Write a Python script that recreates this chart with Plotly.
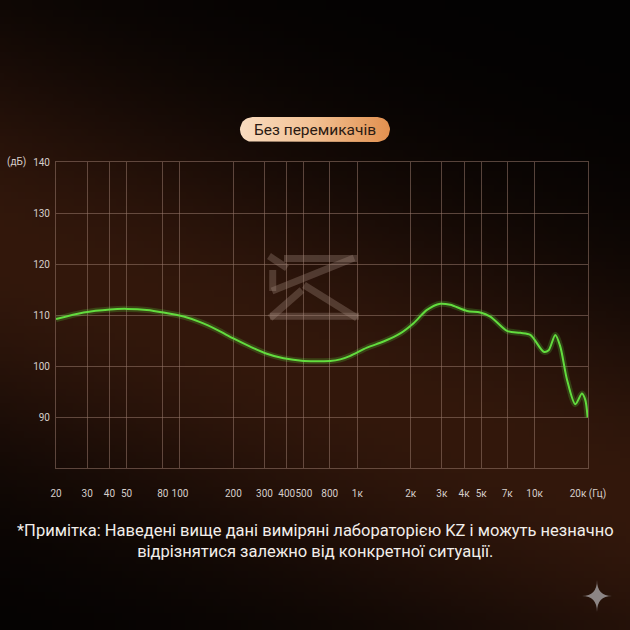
import base64, struct, zlib
import numpy as np
import plotly.graph_objects as go

# ---------------- data ----------------
freq_hz = [20, 28.6, 40.4, 50.2, 65, 80.8, 105, 130, 162, 200, 249, 309, 384, 498,
           704, 802, 913, 1134, 1406, 1747, 2077, 2472, 2936, 3344, 4154, 4938,
           5624, 6982, 8300, 9460, 11245, 12000, 13080, 13960, 15230, 16950,
           18490, 19320, 19900]
spl_db = [109.2, 110.5, 111.1, 111.2, 111.0, 110.5, 109.7, 108.6, 107.1, 105.4,
          103.8, 102.4, 101.5, 101.0, 101.0, 101.3, 102.0, 103.6, 104.8, 106.4,
          108.4, 111.0, 112.2, 112.0, 110.8, 110.5, 109.7, 106.9, 106.5, 106.1,
          102.8, 103.1, 106.1, 103.8, 97.3, 92.5, 94.6, 93.3, 89.9]

x_tick_vals = [20, 30, 40, 50, 80, 100, 200, 300, 400, 500, 700, 1000, 2000,
               3000, 4000, 5000, 7000, 10000, 20000]
x_tick_text = ["20", "30", "40", "50", "80", "100", "200", "300", "400", "500",
               "800", "1к", "2к", "3к", "4к", "5к", "7к", "10к", "20к (Гц)"]
y_tick_vals = [90, 100, 110, 120, 130, 140]
y_tick_text = ["90", "100", "110", "120", "130", "140"]

title_text = "Без перемикачів"
y_unit = "(дБ)"
note_text = ("*Примітка: Наведені вище дані виміряні лабораторією KZ і можуть незначно<br>"
             "відрізнятися залежно від конкретної ситуації.")

W = H = 630
PL, PR, PT, PB = 56, 588, 162, 468  # plot box in pixels

# ---------------- background gradient png ----------------
def make_bg(n=90):
    rows = []
    sig = 200.0
    for j in range(n):
        py = (j + 0.5) * H / n
        row = bytearray([0])
        for i in range(n):
            px = (i + 0.5) * W / n
            liney = 250 + px * 250 / 630
            d = abs(py - liney) * 0.93
            f = np.exp(-(d / sig) ** 2)
            r, g, b = 48 * f + 3, 22 * f + 2, 10 * f + 2
            row += bytes([int(r), int(g), int(b)])
        rows.append(bytes(row))
    raw = b"".join(rows)
    def chunk(t, d):
        c = struct.pack(">I", len(d)) + t + d
        return c + struct.pack(">I", zlib.crc32(t + d) & 0xffffffff)
    png = b"\x89PNG\r\n\x1a\n" + chunk(b"IHDR", struct.pack(">IIBBBBB", n, n, 8, 2, 0, 0, 0)) \
        + chunk(b"IDAT", zlib.compress(raw, 9)) + chunk(b"IEND", b"")
    return "data:image/png;base64," + base64.b64encode(png).decode()

fig = go.Figure()

# glow + curve
fig.add_trace(go.Scatter(x=freq_hz, y=spl_db, mode="lines", line=dict(color="rgba(90,225,60,0.22)", width=6, shape="spline", smoothing=0.8),
                         hoverinfo="skip", showlegend=False))
fig.add_trace(go.Scatter(x=freq_hz, y=spl_db, mode="lines", line=dict(color="#62dc3e", width=2, shape="spline", smoothing=0.8),
                         showlegend=False))

# pill (pixel overlay axes)
x0p, x1p, y0p, y1p, rr = 240, 390, 117, 142, 12.5
t = np.linspace(0, np.pi / 2, 12)
px_pts, py_pts = [], []
for cx, cy, a0 in [(x1p - rr, y0p + rr, -np.pi / 2), (x1p - rr, y1p - rr, 0),
                   (x0p + rr, y1p - rr, np.pi / 2), (x0p + rr, y0p + rr, np.pi)]:
    for a in a0 + t:
        px_pts.append(cx + rr * np.cos(a))
        py_pts.append(cy + rr * np.sin(a))
px_pts.append(px_pts[0]); py_pts.append(py_pts[0])
fig.add_trace(go.Scatter(x=px_pts, y=py_pts, xaxis="x2", yaxis="y2", mode="lines",
                         line=dict(width=0, color="rgba(0,0,0,0)"), fill="toself",
                         fillgradient=dict(type="horizontal", colorscale=[[0, "#f9dcc0"], [0.5, "#f2c092"], [1, "#e2904f"]]),
                         hoverinfo="skip", showlegend=False))

shapes = []
logo_col = "rgba(165,140,128,0.33)"
for (a, b, c, d) in [(284, 258.5, 357, 258.5), (269, 256, 287, 268), (272.7, 270, 272.7, 291),
                     (272, 291, 354, 258), (270, 316.3, 359, 316.3), (270, 318, 302, 290),
                     (304, 285, 357, 318)]:
    shapes.append(dict(type="line", xref="x2", yref="y2", x0=a, y0=b, x1=c, y1=d,
                       line=dict(color=logo_col, width=7), layer="below"))
cx, cy, sw, sh = 597, 596, 15, 16
shapes.append(dict(type="path", xref="x2", yref="y2",
                   path=f"M {cx},{cy-sh} Q {cx},{cy} {cx+sw},{cy} Q {cx},{cy} {cx},{cy+sh} "
                        f"Q {cx},{cy} {cx-sw},{cy} Q {cx},{cy} {cx},{cy-sh} Z",
                   fillcolor="#8c8585", line=dict(width=0)))

grid_col = "rgba(150,118,105,0.55)"
tickfont = dict(family="Roboto, Noto Sans", size=10, color="#d6ceca")

fig.update_layout(
    width=W, height=H, margin=dict(l=0, r=0, t=0, b=0, autoexpand=False),
    paper_bgcolor="#050302", plot_bgcolor="rgba(0,0,0,0)",
    images=[dict(source=make_bg(), xref="paper", yref="paper", x=0, y=1, sizex=1, sizey=1,
                 sizing="stretch", layer="below", xanchor="left", yanchor="top")],
    xaxis=dict(type="log", range=[np.log10(20), np.log10(20000)], domain=[PL / W, PR / W],
               tickvals=x_tick_vals, ticktext=x_tick_text, showgrid=True, gridcolor=grid_col,
               gridwidth=1, showline=True, mirror=True, linecolor=grid_col, linewidth=1,
               zeroline=False, ticks="", tickfont=tickfont, ticklabelstandoff=16, anchor="y",
               tickangle=0, automargin=False),
    yaxis=dict(range=[80, 140], domain=[(H - PB) / H, (H - PT) / H], tickvals=y_tick_vals,
               ticktext=y_tick_text, showgrid=True, gridcolor=grid_col, gridwidth=1,
               showline=True, mirror=True, linecolor=grid_col, linewidth=1, zeroline=False,
               ticks="", tickfont=tickfont, ticklabelstandoff=3, anchor="x", automargin=False),
    xaxis2=dict(domain=[0, 1], range=[0, W], visible=False, anchor="y2", fixedrange=True,
                automargin=False),
    yaxis2=dict(domain=[0, 1], range=[H, 0], visible=False, anchor="x2", fixedrange=True,
                automargin=False),
    shapes=shapes,
    annotations=[
        dict(text=title_text, xref="x2", yref="y2", x=315, y=129.5, showarrow=False,
             font=dict(family="Roboto, Noto Sans", size=15.5, color="#2a1a12")),
        dict(text=y_unit, xref="x2", yref="y2", x=16, y=162, showarrow=False,
             font=tickfont),
        dict(text=note_text, xref="x2", yref="y2", x=315, y=541, showarrow=False,
             align="center", font=dict(family="Roboto, Noto Sans", size=16.5, color="#f2eeea")),
    ],
)

fig.write_html("out.html", config={"displayModeBar": False},
               post_script="document.body.style.margin='0';document.body.style.overflow='hidden';")
